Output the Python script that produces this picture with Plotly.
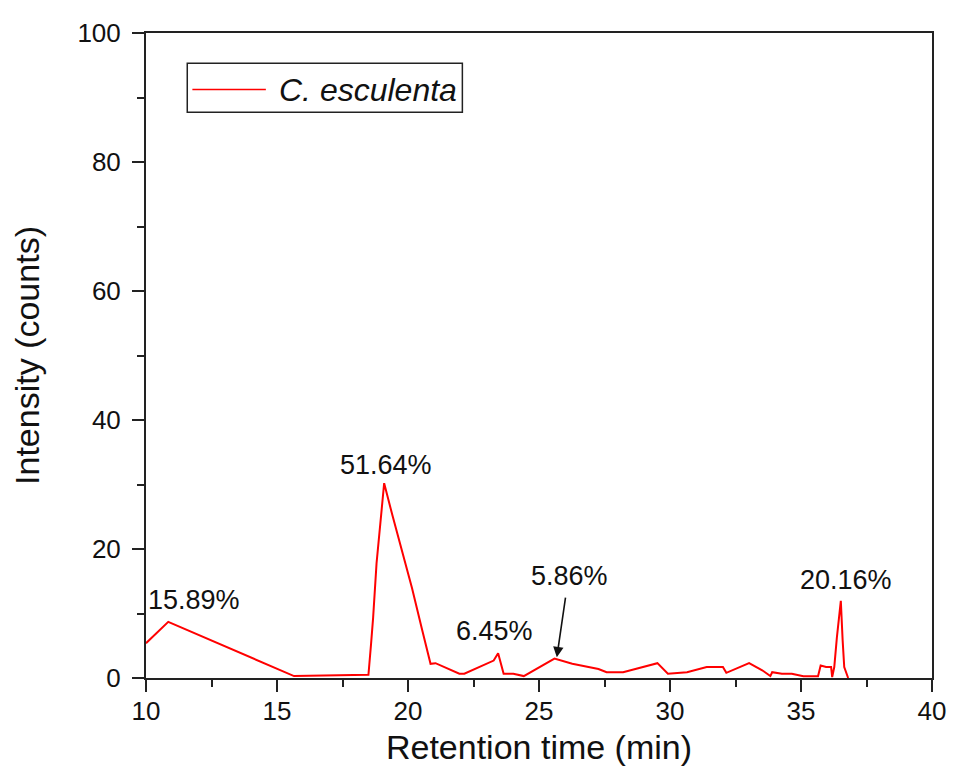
import plotly.graph_objects as go

# ---- data ----
retention_time = [10.0, 10.85, 15.65, 18.49, 18.59, 18.67, 18.8, 18.99, 19.09, 19.4,
                  19.78, 20.15, 20.52, 20.86, 21.05, 21.96, 22.15, 23.27, 23.44, 23.65,
                  24.02, 24.42, 25.59, 26.27, 27.27, 27.58, 28.21, 29.02, 29.52, 29.92,
                  30.65, 31.4, 32.02, 32.15, 33.02, 33.52, 33.83, 33.9, 34.27, 34.65,
                  35.09, 35.65, 35.75, 35.96, 36.15, 36.19, 36.27, 36.37, 36.52, 36.59,
                  36.65, 36.8]
intensity = [5.4, 8.7, 0.3, 0.5, 5.3, 9.4, 17.8, 26.3, 30.2, 25.3,
             19.6, 14.0, 7.8, 2.2, 2.3, 0.66, 0.66, 2.7, 3.85, 0.66,
             0.66, 0.3, 3.0, 2.2, 1.4, 0.9, 0.9, 1.8, 2.3, 0.66,
             0.9, 1.7, 1.7, 0.8, 2.3, 1.2, 0.3, 0.9, 0.66, 0.66,
             0.26, 0.26, 1.95, 1.7, 1.7, 0.15, 1.7, 6.3, 11.95, 5.8,
             1.7, 0.0]

peak_labels = ["15.89%", "51.64%", "6.45%", "5.86%", "20.16%"]
peak_label_x = [11.84, 19.15, 23.29, 26.18, 36.7]
peak_label_y = [12.1, 33.1, 7.3, 15.85, 15.2]

series_name = "C. esculenta"
x_ticks = [10, 15, 20, 25, 30, 35, 40]
y_ticks = [0, 20, 40, 60, 80, 100]

FONT = "Liberation Sans, Arial, sans-serif"

fig = go.Figure()
fig.add_trace(go.Scatter(
    x=retention_time, y=intensity, mode="lines", name=series_name,
    line=dict(color="#ff0000", width=2), showlegend=False,
))

annotations = []
for t, xx, yy in zip(peak_labels, peak_label_x, peak_label_y):
    annotations.append(dict(x=xx, y=yy, xref="x", yref="y", text=t, showarrow=False,
                            font=dict(family=FONT, size=27, color="#111111")))
# arrow pointing to the 5.86% peak
annotations.append(dict(x=25.68, y=3.2, xref="x", yref="y", ax=26.02, ay=12.7,
                        axref="x", ayref="y", text="", showarrow=True,
                        arrowhead=2, arrowsize=1.3, arrowwidth=1.6, arrowcolor="#111111"))
# legend (drawn manually to match the framed legend of the original)
annotations.append(dict(x=0.167, y=0.912, xref="paper", yref="paper", xanchor="left",
                        yanchor="middle", text="<i>" + series_name + "</i>", showarrow=False,
                        font=dict(family=FONT, size=32, color="#111111")))

shapes = [
    dict(type="rect", xref="paper", yref="paper", x0=0.0525, x1=0.4025, y0=0.877, y1=0.953,
         line=dict(color="#222222", width=1.5), fillcolor="rgba(0,0,0,0)"),
    dict(type="line", xref="paper", yref="paper", x0=0.059, x1=0.1525, y0=0.9125, y1=0.9125,
         line=dict(color="#ff0000", width=1.5)),
]

axis_common = dict(
    showline=True, linecolor="#222222", linewidth=2, mirror=True,
    showgrid=False, zeroline=False, ticks="outside", ticklen=12, tickwidth=2,
    tickcolor="#222222", tickfont=dict(family=FONT, size=26, color="#111111"),
)

fig.update_layout(
    width=948, height=762,
    margin=dict(l=138, r=10, t=23, b=89),
    paper_bgcolor="white", plot_bgcolor="white",
    xaxis=dict(range=[10, 40], tickvals=x_ticks, ticklabelstandoff=-3,
               ticklabeloverflow="allow",
               minor=dict(dtick=2.5, ticks="outside", ticklen=7, tickwidth=2, tickcolor="#222222"),
               title=dict(text="Retention time (min)", standoff=10,
                          font=dict(family=FONT, size=34, color="#111111")),
               **axis_common),
    yaxis=dict(range=[0, 100], tickvals=y_ticks, ticklabelstandoff=6,
               minor=dict(dtick=10, ticks="outside", ticklen=7, tickwidth=2, tickcolor="#222222"),
               title=dict(text="Intensity (counts)", standoff=30,
                          font=dict(family=FONT, size=34, color="#111111")),
               **axis_common),
    annotations=annotations,
    shapes=shapes,
)

fig.write_html("out.html", config={"displayModeBar": False})
